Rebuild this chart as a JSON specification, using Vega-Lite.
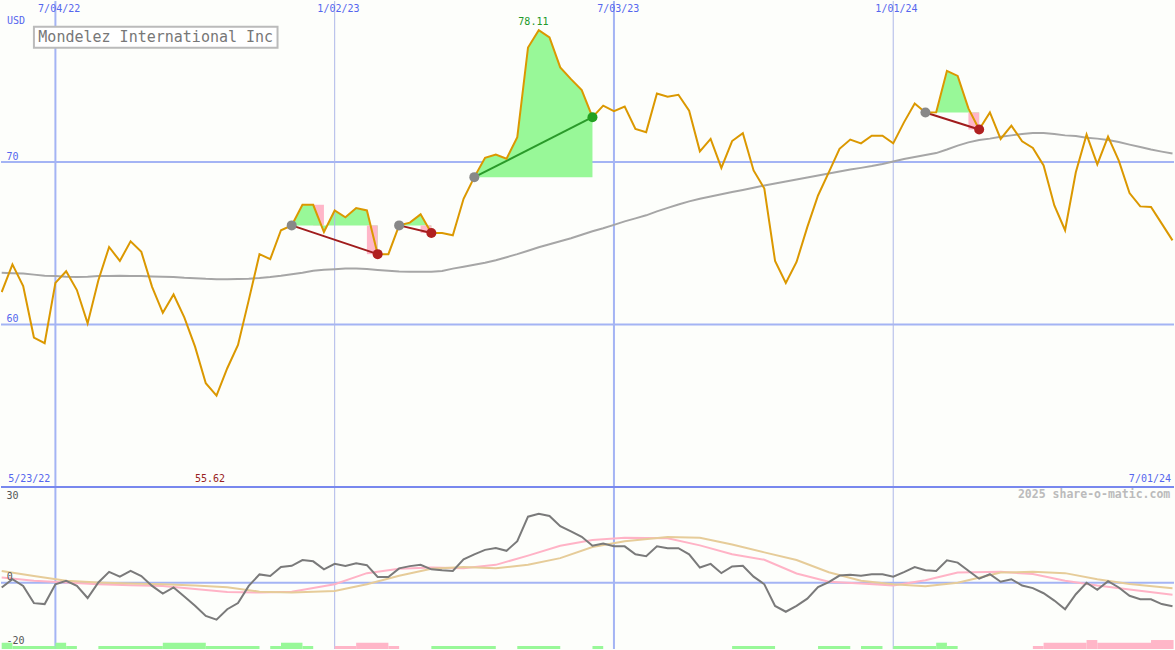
{
  "$schema": "https://vega.github.io/schema/vega-lite/v6.json",
  "width": 1175,
  "height": 650,
  "autosize": {"type": "fit", "contains": "padding"},
  "padding": 0,
  "background": "#FDFEFB",
  "config": {"view": {"stroke": null}, "font": "DejaVu Sans Mono"},
  "datasets": {
    "wk": [
      {"w":0,"p":62.0,"m":63.18,"o":-1.5},{"w":1,"p":63.7,"m":63.16,"o":1.1},{"w":2,"p":62.36,"m":63.14,"o":-1.0},{"w":3,"p":59.2,"m":63.07,"o":-6.4},{"w":4,"p":58.85,"m":63.0,"o":-6.7},
      {"w":5,"p":62.56,"m":62.98,"o":-0.5},{"w":6,"p":63.28,"m":62.94,"o":0.56},{"w":7,"p":62.12,"m":62.93,"o":-1.0},{"w":8,"p":60.07,"m":62.94,"o":-4.8},{"w":9,"p":62.73,"m":62.98,"o":0.06},
      {"w":10,"p":64.77,"m":62.99,"o":3.4},{"w":11,"p":63.91,"m":63.0,"o":1.9},{"w":12,"p":65.12,"m":62.99,"o":3.7},{"w":13,"p":64.47,"m":62.98,"o":2.1},{"w":14,"p":62.32,"m":62.96,"o":-1.0},
      {"w":15,"p":60.72,"m":62.94,"o":-3.4},{"w":16,"p":61.85,"m":62.93,"o":-1.5},{"w":17,"p":60.44,"m":62.88,"o":-4.3},{"w":18,"p":58.64,"m":62.85,"o":-7.2},{"w":19,"p":56.39,"m":62.81,"o":-10.4},
      {"w":20,"p":55.62,"m":62.79,"o":-11.6},{"w":21,"p":57.31,"m":62.79,"o":-8.3},{"w":22,"p":58.74,"m":62.8,"o":-6.4},{"w":23,"p":61.5,"m":62.82,"o":-1.0},{"w":24,"p":64.33,"m":62.86,"o":2.6},
      {"w":25,"p":64.02,"m":62.92,"o":2.1},{"w":26,"p":65.8,"m":63.0,"o":4.9},{"w":27,"p":66.1,"m":63.1,"o":5.3},{"w":28,"p":67.37,"m":63.19,"o":7.1},{"w":29,"p":67.37,"m":63.31,"o":6.7},
      {"w":30,"p":65.69,"m":63.37,"o":4.2},{"w":31,"p":67.02,"m":63.4,"o":5.9},{"w":32,"p":66.6,"m":63.44,"o":5.25},{"w":33,"p":67.17,"m":63.45,"o":6.1},{"w":34,"p":67.02,"m":63.42,"o":5.5},
      {"w":35,"p":64.33,"m":63.36,"o":1.8},{"w":36,"p":64.33,"m":63.31,"o":1.8},{"w":37,"p":66.1,"m":63.26,"o":4.5},{"w":38,"p":66.27,"m":63.24,"o":5.2},{"w":39,"p":66.78,"m":63.24,"o":5.6},
      {"w":40,"p":65.63,"m":63.25,"o":4.2},{"w":41,"p":65.63,"m":63.3,"o":3.9},{"w":42,"p":65.49,"m":63.44,"o":3.7},{"w":43,"p":67.74,"m":63.56,"o":7.3},{"w":44,"p":69.07,"m":63.68,"o":8.9},
      {"w":45,"p":70.26,"m":63.8,"o":10.3},{"w":46,"p":70.46,"m":63.96,"o":10.9},{"w":47,"p":70.2,"m":64.14,"o":10.0},{"w":48,"p":71.53,"m":64.33,"o":13.0},{"w":49,"p":77.05,"m":64.54,"o":20.7},
      {"w":50,"p":78.11,"m":64.75,"o":21.6},{"w":51,"p":77.67,"m":64.94,"o":20.9},{"w":52,"p":75.82,"m":65.12,"o":17.7},{"w":53,"p":75.1,"m":65.31,"o":16.1},{"w":54,"p":74.43,"m":65.52,"o":14.4},
      {"w":55,"p":72.76,"m":65.74,"o":11.6},{"w":56,"p":73.47,"m":65.92,"o":12.3},{"w":57,"p":73.13,"m":66.13,"o":11.4},{"w":58,"p":73.41,"m":66.35,"o":11.4},{"w":59,"p":72.04,"m":66.53,"o":8.9},
      {"w":60,"p":71.84,"m":66.72,"o":8.3},{"w":61,"p":74.22,"m":66.96,"o":11.4},{"w":62,"p":74.02,"m":67.18,"o":10.8},{"w":63,"p":74.14,"m":67.39,"o":10.8},{"w":64,"p":73.16,"m":67.58,"o":8.9},
      {"w":65,"p":70.66,"m":67.74,"o":4.75},{"w":66,"p":71.42,"m":67.88,"o":5.9},{"w":67,"p":69.64,"m":68.02,"o":3.0},{"w":68,"p":71.29,"m":68.15,"o":5.1},{"w":69,"p":71.78,"m":68.28,"o":5.3},
      {"w":70,"p":69.48,"m":68.42,"o":1.9},{"w":71,"p":68.37,"m":68.56,"o":-0.5},{"w":72,"p":63.91,"m":68.68,"o":-7.3},{"w":73,"p":62.56,"m":68.8,"o":-9.1},{"w":74,"p":63.85,"m":68.93,"o":-7.25},
      {"w":75,"p":65.99,"m":69.05,"o":-5.0},{"w":76,"p":67.94,"m":69.17,"o":-1.4},{"w":77,"p":69.36,"m":69.29,"o":0.2},{"w":78,"p":70.81,"m":69.42,"o":2.25},{"w":79,"p":71.38,"m":69.54,"o":2.5},
      {"w":80,"p":71.15,"m":69.64,"o":2.2},{"w":81,"p":71.62,"m":69.75,"o":2.65},{"w":82,"p":71.62,"m":69.88,"o":2.65},{"w":83,"p":71.15,"m":70.03,"o":1.9},{"w":84,"p":72.44,"m":70.18,"o":3.3},
      {"w":85,"p":73.6,"m":70.31,"o":4.9},{"w":86,"p":73.05,"m":70.43,"o":3.9},{"w":87,"p":73.06,"m":70.55,"o":3.7},{"w":88,"p":75.61,"m":70.77,"o":7.0},{"w":89,"p":75.3,"m":71.01,"o":6.3},
      {"w":90,"p":73.3,"m":71.21,"o":3.75},{"w":91,"p":72.0,"m":71.35,"o":1.25},{"w":92,"p":73.05,"m":71.44,"o":2.65},{"w":93,"p":71.42,"m":71.56,"o":0.3},{"w":94,"p":72.24,"m":71.64,"o":1.1},
      {"w":95,"p":71.28,"m":71.73,"o":-0.9},{"w":96,"p":70.87,"m":71.79,"o":-1.7},{"w":97,"p":69.79,"m":71.78,"o":-3.3},{"w":98,"p":67.33,"m":71.72,"o":-5.6},{"w":99,"p":65.8,"m":71.64,"o":-8.3},
      {"w":100,"p":69.37,"m":71.6,"o":-3.6},{"w":101,"p":71.69,"m":71.5,"o":0.0},{"w":102,"p":69.85,"m":71.44,"o":-2.2},{"w":103,"p":71.56,"m":71.35,"o":0.5},{"w":104,"p":70.09,"m":71.23,"o":-1.5},
      {"w":105,"p":68.09,"m":71.07,"o":-4.1},{"w":106,"p":67.27,"m":70.92,"o":-5.2},{"w":107,"p":67.23,"m":70.77,"o":-5.2},{"w":108,"p":66.21,"m":70.64,"o":-6.7},{"w":109,"p":65.18,"m":70.52,"o":-7.4}
    ],
    "sm": [
      {"w":0,"pk":1.6,"tn":3.7},{"w":3,"pk":0.6,"tn":2.1},{"w":6,"pk":0.06,"tn":0.6},{"w":9,"pk":-0.5,"tn":0.1},{"w":12,"pk":-0.8,"tn":-0.25},
      {"w":15,"pk":-1.0,"tn":-0.5},{"w":18,"pk":-2.0,"tn":-0.9},{"w":21,"pk":-2.9,"tn":-1.4},{"w":24,"pk":-3.1,"tn":-2.8},{"w":27,"pk":-2.8,"tn":-3.1},
      {"w":31,"pk":-0.5,"tn":-2.6},{"w":34,"pk":3.0,"tn":-0.5},{"w":37,"pk":4.4,"tn":2.2},{"w":40,"pk":4.75,"tn":4.4},{"w":43,"pk":4.5,"tn":4.9},
      {"w":46,"pk":5.6,"tn":4.5},{"w":49,"pk":8.5,"tn":5.6},{"w":52,"pk":11.6,"tn":7.7},{"w":55,"pk":13.4,"tn":11.2},{"w":58,"pk":14.1,"tn":13.0},
      {"w":62,"pk":13.9,"tn":14.3},{"w":65,"pk":11.7,"tn":14.1},{"w":68,"pk":8.9,"tn":12.0},{"w":71,"pk":7.2,"tn":9.5},{"w":74,"pk":2.9,"tn":7.1},
      {"w":77,"pk":0.3,"tn":3.3},{"w":80,"pk":-0.25,"tn":0.6},{"w":83,"pk":-0.9,"tn":-0.5},{"w":86,"pk":0.8,"tn":-1.1},{"w":89,"pk":3.2,"tn":0.0},
      {"w":93,"pk":3.4,"tn":3.2},{"w":96,"pk":2.7,"tn":3.4},{"w":99,"pk":0.6,"tn":3.0},{"w":102,"pk":-0.9,"tn":1.1},{"w":105,"pk":-2.1,"tn":-0.4},{"w":109,"pk":-3.8,"tn":-1.7}
    ],
    "tr": [
      {"s":"A","w":27,"p":66.1,"e":66.1},{"s":"A","w":28,"p":67.37,"e":66.1},{"s":"A","w":29,"p":67.37,"e":66.1},{"s":"A","w":30,"p":65.69,"e":66.1},{"s":"A","w":31,"p":67.02,"e":66.1},
      {"s":"A","w":32,"p":66.6,"e":66.1},{"s":"A","w":33,"p":67.17,"e":66.1},{"s":"A","w":34,"p":67.02,"e":66.1},{"s":"A","w":35,"p":64.33,"e":66.1},
      {"s":"B","w":37,"p":66.1,"e":66.1},{"s":"B","w":38,"p":66.27,"e":66.1},{"s":"B","w":39,"p":66.78,"e":66.1},{"s":"B","w":40,"p":65.63,"e":66.1},
      {"s":"C","w":44,"p":69.07,"e":69.07},{"s":"C","w":45,"p":70.26,"e":69.07},{"s":"C","w":46,"p":70.46,"e":69.07},{"s":"C","w":47,"p":70.2,"e":69.07},{"s":"C","w":48,"p":71.53,"e":69.07},
      {"s":"C","w":49,"p":77.05,"e":69.07},{"s":"C","w":50,"p":78.11,"e":69.07},{"s":"C","w":51,"p":77.67,"e":69.07},{"s":"C","w":52,"p":75.82,"e":69.07},{"s":"C","w":53,"p":75.1,"e":69.07},
      {"s":"C","w":54,"p":74.43,"e":69.07},{"s":"C","w":55,"p":72.76,"e":69.07},
      {"s":"D","w":86,"p":73.05,"e":73.05},{"s":"D","w":87,"p":73.06,"e":73.05},{"s":"D","w":88,"p":75.61,"e":73.05},{"s":"D","w":89,"p":75.3,"e":73.05},{"s":"D","w":90,"p":73.3,"e":73.05},{"s":"D","w":91,"p":72.0,"e":73.05}
    ],
    "tl": [
      {"s":"A","w":27,"v":66.1,"k":"entry","out":"loss"},{"s":"A","w":35,"v":64.33,"k":"loss","out":"loss"},
      {"s":"B","w":37,"v":66.1,"k":"entry","out":"loss"},{"s":"B","w":40,"v":65.63,"k":"loss","out":"loss"},
      {"s":"C","w":44,"v":69.07,"k":"entry","out":"win"},{"s":"C","w":55,"v":72.76,"k":"win","out":"win"},
      {"s":"D","w":86,"v":73.05,"k":"entry","out":"loss"},{"s":"D","w":91,"v":72.0,"k":"loss","out":"loss"}
    ],
    "up": [
      {"a":0,"b":1,"l":2.1},{"a":1,"b":5,"l":1},{"a":5,"b":6,"l":2.1},{"a":6,"b":7,"l":1},{"a":9,"b":15,"l":1},
      {"a":15,"b":19,"l":2.1},{"a":19,"b":24,"l":1},{"a":25,"b":26,"l":1},{"a":26,"b":28,"l":2.1},{"a":28,"b":29,"l":1},
      {"a":40,"b":46,"l":1},{"a":48,"b":52,"l":1},{"a":55,"b":56,"l":1},{"a":68,"b":72,"l":1},{"a":76,"b":79,"l":1},
      {"a":80,"b":82,"l":1},{"a":83,"b":87,"l":1},{"a":87,"b":88,"l":2.1},{"a":88,"b":89,"l":1}
    ],
    "down": [
      {"a":31,"b":33,"l":1},{"a":33,"b":36,"l":2.1},{"a":36,"b":37,"l":1},
      {"a":96,"b":97,"l":1},{"a":97,"b":101,"l":2.1},{"a":101,"b":102,"l":3},{"a":102,"b":107,"l":2.1},{"a":107,"b":109.1,"l":3}
    ]
  },
  "resolve": {"scale": {"y": "independent"}},
  "layer": [
    {
      "layer": [
        {
          "data": {"values": [{"v":70},{"v":60}]},
          "mark": {"type": "rule", "color": "#A4B4F4", "strokeWidth": 2},
          "encoding": {"y": {"field": "v", "type": "quantitative", "scale": {"domain": [40.03, 79.91], "nice": false, "zero": false}, "axis": null}}
        },
        {
          "data": {"values": [{"a":29,"b":30,"t":67.37,"u":66.1}]},
          "mark": {"type": "rect", "color": "#FFB6C8"},
          "encoding": {
            "x": {"field": "a", "type": "quantitative", "scale": {"domain": [-0.065, 109.14], "nice": false, "zero": false}, "axis": null},
            "x2": {"field": "b"},
            "y": {"field": "t", "type": "quantitative", "scale": {"domain": [40.03, 79.91], "nice": false, "zero": false}, "axis": null},
            "y2": {"field": "u"}
          }
        },
        {
          "data": {"name": "tr"},
          "mark": {"type": "area", "color": "#98F898", "opacity": 1},
          "encoding": {
            "x": {"field": "w", "type": "quantitative", "scale": {"domain": [-0.065, 109.14], "nice": false, "zero": false}, "axis": null},
            "y": {"field": "p", "type": "quantitative", "scale": {"domain": [40.03, 79.91], "nice": false, "zero": false}, "axis": null},
            "y2": {"field": "e"},
            "detail": {"field": "s"}
          }
        },
        {
          "data": {"values": [{"a":34,"b":35,"t":66.1,"u":64.33},{"a":39,"b":40,"t":66.1,"u":65.63},{"a":90,"b":91,"t":73.05,"u":72.0}]},
          "mark": {"type": "rect", "color": "#FFB6C8"},
          "encoding": {
            "x": {"field": "a", "type": "quantitative", "scale": {"domain": [-0.065, 109.14], "nice": false, "zero": false}, "axis": null},
            "x2": {"field": "b"},
            "y": {"field": "t", "type": "quantitative", "scale": {"domain": [40.03, 79.91], "nice": false, "zero": false}, "axis": null},
            "y2": {"field": "u"}
          }
        },
        {
          "data": {"values": [{"w":5},{"w":57}]},
          "mark": {"type": "rule", "color": "#A4B4F4", "strokeWidth": 2},
          "encoding": {"x": {"field": "w", "type": "quantitative", "scale": {"domain": [-0.065, 109.14], "nice": false, "zero": false}, "axis": null}}
        },
        {
          "data": {"values": [{"w":31},{"w":83}]},
          "mark": {"type": "rule", "color": "#AEB8E8", "strokeWidth": 1},
          "encoding": {"x": {"field": "w", "type": "quantitative", "scale": {"domain": [-0.065, 109.14], "nice": false, "zero": false}, "axis": null}}
        },
        {
          "data": {"values": [{"v":50}]},
          "mark": {"type": "rule", "color": "#7888EE", "strokeWidth": 2},
          "encoding": {"y": {"field": "v", "type": "quantitative", "scale": {"domain": [40.03, 79.91], "nice": false, "zero": false}, "axis": null}}
        },
        {
          "data": {"values": [{}]},
          "mark": {"type": "rect", "fill": "#FFFFFF", "stroke": "#BBBBBB", "strokeWidth": 2},
          "encoding": {
            "x": {"datum": 3.0, "type": "quantitative", "scale": {"domain": [-0.065, 109.14], "nice": false, "zero": false}, "axis": null},
            "x2": {"datum": 25.68},
            "y": {"datum": 78.32, "type": "quantitative", "scale": {"domain": [40.03, 79.91], "nice": false, "zero": false}, "axis": null},
            "y2": {"datum": 77.03}
          }
        },
        {
          "data": {"name": "wk"},
          "mark": {"type": "line", "color": "#A6A6A6", "strokeWidth": 2, "clip": true},
          "encoding": {
            "x": {"field": "w", "type": "quantitative", "scale": {"domain": [-0.065, 109.14], "nice": false, "zero": false}, "axis": null},
            "y": {"field": "m", "type": "quantitative", "scale": {"domain": [40.03, 79.91], "nice": false, "zero": false}, "axis": null}
          }
        },
        {
          "data": {"name": "tl"},
          "mark": {"type": "line", "strokeWidth": 2},
          "encoding": {
            "x": {"field": "w", "type": "quantitative", "scale": {"domain": [-0.065, 109.14], "nice": false, "zero": false}, "axis": null},
            "y": {"field": "v", "type": "quantitative", "scale": {"domain": [40.03, 79.91], "nice": false, "zero": false}, "axis": null},
            "detail": {"field": "s"},
            "color": {"field": "out", "type": "nominal", "scale": {"domain": ["loss", "win"], "range": ["#A01C1C", "#2A9A2A"]}, "legend": null}
          }
        },
        {
          "data": {"name": "wk"},
          "mark": {"type": "line", "color": "#DB9800", "strokeWidth": 2, "clip": true},
          "encoding": {
            "x": {"field": "w", "type": "quantitative", "scale": {"domain": [-0.065, 109.14], "nice": false, "zero": false}, "axis": null},
            "y": {"field": "p", "type": "quantitative", "scale": {"domain": [40.03, 79.91], "nice": false, "zero": false}, "axis": null}
          }
        },
        {
          "data": {"name": "tl"},
          "mark": {"type": "point", "filled": true, "opacity": 1, "size": 100},
          "encoding": {
            "x": {"field": "w", "type": "quantitative", "scale": {"domain": [-0.065, 109.14], "nice": false, "zero": false}, "axis": null},
            "y": {"field": "v", "type": "quantitative", "scale": {"domain": [40.03, 79.91], "nice": false, "zero": false}, "axis": null},
            "fill": {"field": "k", "type": "nominal", "scale": {"domain": ["entry", "loss", "win"], "range": ["#888888", "#B02020", "#22A022"]}, "legend": null}
          }
        },
        {
          "data": {"values": [
            {"w":1.33,"v":78.68,"t":"USD"},{"w":5.35,"v":79.42,"t":"7/04/22"},{"w":31.35,"v":79.42,"t":"1/02/23"},{"w":57.4,"v":79.42,"t":"7/03/23"},{"w":83.3,"v":79.42,"t":"1/01/24"},
            {"w":1.0,"v":70.28,"t":"70"},{"w":1.0,"v":60.32,"t":"60"},{"w":2.57,"v":50.52,"t":"5/23/22"},{"w":106.9,"v":50.52,"t":"7/01/24"}
          ]},
          "mark": {"type": "text", "color": "#5566EE", "fontSize": 10, "font": "DejaVu Sans Mono", "align": "center", "baseline": "middle"},
          "encoding": {
            "x": {"field": "w", "type": "quantitative", "scale": {"domain": [-0.065, 109.14], "nice": false, "zero": false}, "axis": null},
            "y": {"field": "v", "type": "quantitative", "scale": {"domain": [40.03, 79.91], "nice": false, "zero": false}, "axis": null},
            "text": {"field": "t"}
          }
        },
        {
          "data": {"values": [{"w":19.4,"v":50.52,"t":"55.62"}]},
          "mark": {"type": "text", "color": "#992222", "fontSize": 10, "font": "DejaVu Sans Mono", "align": "center", "baseline": "middle"},
          "encoding": {
            "x": {"field": "w", "type": "quantitative", "scale": {"domain": [-0.065, 109.14], "nice": false, "zero": false}, "axis": null},
            "y": {"field": "v", "type": "quantitative", "scale": {"domain": [40.03, 79.91], "nice": false, "zero": false}, "axis": null},
            "text": {"field": "t"}
          }
        },
        {
          "data": {"values": [{"w":49.5,"v":78.62,"t":"78.11"}]},
          "mark": {"type": "text", "color": "#22992A", "fontSize": 10, "font": "DejaVu Sans Mono", "align": "center", "baseline": "middle"},
          "encoding": {
            "x": {"field": "w", "type": "quantitative", "scale": {"domain": [-0.065, 109.14], "nice": false, "zero": false}, "axis": null},
            "y": {"field": "v", "type": "quantitative", "scale": {"domain": [40.03, 79.91], "nice": false, "zero": false}, "axis": null},
            "text": {"field": "t"}
          }
        },
        {
          "data": {"values": [{"w":14.34,"v":77.67,"t":"Mondelez International Inc"}]},
          "mark": {"type": "text", "color": "#777777", "fontSize": 15, "font": "DejaVu Sans Mono", "align": "center", "baseline": "middle"},
          "encoding": {
            "x": {"field": "w", "type": "quantitative", "scale": {"domain": [-0.065, 109.14], "nice": false, "zero": false}, "axis": null},
            "y": {"field": "v", "type": "quantitative", "scale": {"domain": [40.03, 79.91], "nice": false, "zero": false}, "axis": null},
            "text": {"field": "t"}
          }
        }
      ]
    },
    {
      "layer": [
        {
          "data": {"values": [{"v":0}]},
          "mark": {"type": "rule", "color": "#A4B4F4", "strokeWidth": 2},
          "encoding": {"y": {"field": "v", "type": "quantitative", "scale": {"domain": [-20.78, 182.34], "nice": false, "zero": false}, "axis": null}}
        },
        {
          "data": {"name": "sm"},
          "mark": {"type": "line", "color": "#FFB3C6", "strokeWidth": 2, "clip": true},
          "encoding": {
            "x": {"field": "w", "type": "quantitative", "scale": {"domain": [-0.065, 109.14], "nice": false, "zero": false}, "axis": null},
            "y": {"field": "pk", "type": "quantitative", "scale": {"domain": [-20.78, 182.34], "nice": false, "zero": false}, "axis": null}
          }
        },
        {
          "data": {"name": "sm"},
          "mark": {"type": "line", "color": "#E6CC99", "strokeWidth": 2, "clip": true},
          "encoding": {
            "x": {"field": "w", "type": "quantitative", "scale": {"domain": [-0.065, 109.14], "nice": false, "zero": false}, "axis": null},
            "y": {"field": "tn", "type": "quantitative", "scale": {"domain": [-20.78, 182.34], "nice": false, "zero": false}, "axis": null}
          }
        },
        {
          "data": {"name": "wk"},
          "mark": {"type": "line", "color": "#7A7A7A", "strokeWidth": 2, "clip": true},
          "encoding": {
            "x": {"field": "w", "type": "quantitative", "scale": {"domain": [-0.065, 109.14], "nice": false, "zero": false}, "axis": null},
            "y": {"field": "o", "type": "quantitative", "scale": {"domain": [-20.78, 182.34], "nice": false, "zero": false}, "axis": null}
          }
        },
        {
          "data": {"values": [{"w":1.0,"v":27.3,"t":"30"},{"w":0.75,"v":1.9,"t":"0"},{"w":1.28,"v":-18.2,"t":"-20"}]},
          "mark": {"type": "text", "color": "#555555", "fontSize": 10, "font": "DejaVu Sans Mono", "align": "center", "baseline": "middle"},
          "encoding": {
            "x": {"field": "w", "type": "quantitative", "scale": {"domain": [-0.065, 109.14], "nice": false, "zero": false}, "axis": null},
            "y": {"field": "v", "type": "quantitative", "scale": {"domain": [-20.78, 182.34], "nice": false, "zero": false}, "axis": null},
            "text": {"field": "t"}
          }
        },
        {
          "data": {"values": [{"w":101.7,"v":27.4,"t":"2025 share-o-matic.com"}]},
          "mark": {"type": "text", "color": "#BBBBBB", "fontSize": 11.5, "fontWeight": "bold", "font": "DejaVu Sans Mono", "align": "center", "baseline": "middle"},
          "encoding": {
            "x": {"field": "w", "type": "quantitative", "scale": {"domain": [-0.065, 109.14], "nice": false, "zero": false}, "axis": null},
            "y": {"field": "v", "type": "quantitative", "scale": {"domain": [-20.78, 182.34], "nice": false, "zero": false}, "axis": null},
            "text": {"field": "t"}
          }
        }
      ]
    },
    {
      "layer": [
        {
          "data": {"name": "up"},
          "mark": {"type": "rect", "color": "#98F898"},
          "encoding": {
            "x": {"field": "a", "type": "quantitative", "scale": {"domain": [-0.065, 109.14], "nice": false, "zero": false}, "axis": null},
            "x2": {"field": "b"},
            "y": {"field": "l", "type": "quantitative", "scale": {"domain": [0, 216.67], "nice": false, "zero": false}, "axis": null},
            "y2": {"datum": 0}
          }
        },
        {
          "data": {"name": "down"},
          "mark": {"type": "rect", "color": "#FFB6C8"},
          "encoding": {
            "x": {"field": "a", "type": "quantitative", "scale": {"domain": [-0.065, 109.14], "nice": false, "zero": false}, "axis": null},
            "x2": {"field": "b"},
            "y": {"field": "l", "type": "quantitative", "scale": {"domain": [0, 216.67], "nice": false, "zero": false}, "axis": null},
            "y2": {"datum": 0}
          }
        }
      ]
    }
  ]
}
